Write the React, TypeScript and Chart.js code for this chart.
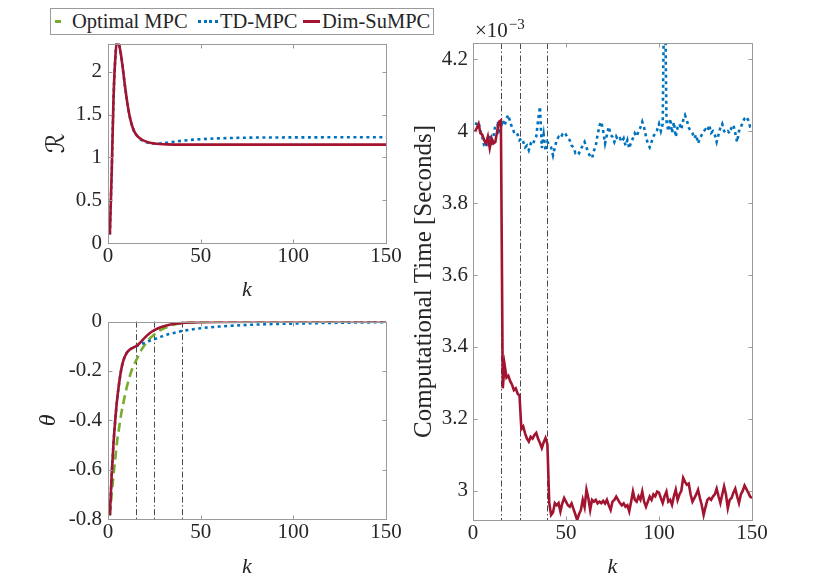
import React, { useEffect, useRef } from "react";
import { Chart, registerables } from "chart.js";

Chart.register(...registerables);

// axis ticks
const kTicks = [0, 50, 100, 150];
const rTicks = [0, 0.5, 1, 1.5, 2];
const thetaTicks = [-0.8, -0.6, -0.4, -0.2, 0];
const timeTicks = [3, 3.2, 3.4, 3.6, 3.8, 4, 4.2];
// steps where Dim-SuMPC changes dimension (dash-dot lines)
const switchSteps = [15, 25, 40];

// top-left: R vs k
const kR = [1, 2, 3, 4, 5, 6, 7, 8, 9, 10, 11, 12, 13, 14, 16, 18, 20, 22, 25, 28, 32, 40, 60, 100, 150];
const rDimSu = [0.1, 0.83, 1.7, 2.18, 2.38, 2.32, 2.2, 2.04, 1.86, 1.7, 1.56, 1.45, 1.37, 1.31, 1.245, 1.21, 1.19, 1.175, 1.162, 1.156, 1.152, 1.15, 1.15, 1.15, 1.15];
const kRTd = [1, 2, 3, 4, 5, 6, 7, 8, 9, 10, 11, 12, 13, 14, 16, 18, 20, 22, 25, 28, 32, 40, 50, 60, 70, 80, 100, 125, 150];
const rTd = [0.1, 0.83, 1.7, 2.18, 2.38, 2.32, 2.2, 2.04, 1.86, 1.7, 1.56, 1.45, 1.37, 1.31, 1.245, 1.205, 1.182, 1.168, 1.162, 1.163, 1.172, 1.195, 1.213, 1.223, 1.229, 1.232, 1.234, 1.235, 1.235];

// bottom-left: theta vs k
const kTheta = [1, 2, 3, 4, 5, 6, 7, 8, 10, 12, 14, 15, 16, 18, 20, 22, 25, 28, 32, 36, 40, 45, 50, 60, 80, 100, 150];
const thetaDimSu = [-0.785, -0.62, -0.49, -0.39, -0.31, -0.25, -0.2, -0.165, -0.128, -0.112, -0.104, -0.1, -0.095, -0.08, -0.064, -0.05, -0.035, -0.024, -0.015, -0.009, -0.005, -0.003, -0.002, -0.001, 0, 0, 0];
const thetaOptimal = [-0.785, -0.7, -0.62, -0.55, -0.48, -0.43, -0.38, -0.34, -0.27, -0.215, -0.175, -0.16, -0.145, -0.115, -0.092, -0.072, -0.052, -0.036, -0.022, -0.012, -0.006, -0.003, -0.001, 0, 0, 0, 0];
const thetaTd = [-0.785, -0.62, -0.49, -0.39, -0.31, -0.25, -0.2, -0.165, -0.128, -0.112, -0.104, -0.1, -0.097, -0.091, -0.085, -0.079, -0.071, -0.063, -0.052, -0.045, -0.038, -0.032, -0.027, -0.02, -0.012, -0.008, -0.002];

// right: computational time per step (x 10^-3 s)
const kTime = Array.from({ length: 150 }, (_, i) => i + 1);
const timeTd = [
  4.022, 4.02, 4.025, 4.0, 3.985, 3.96, 3.955, 3.975, 3.99, 3.96,
  3.985, 4.015, 4.02, 4.0, 4.01, 4.03, 4.015, 4.035, 4.045, 4.025,
  4.01, 3.998, 4.0, 3.99, 3.975, 3.98, 3.97, 3.955, 3.96, 3.947,
  3.965, 3.96, 3.975, 3.985, 4.03, 4.068, 3.953, 3.99, 3.945, 3.97,
  3.962, 3.955, 3.933, 3.955, 3.975, 3.984, 3.98, 3.99, 3.984, 3.99,
  3.98, 3.975, 3.96, 3.955, 3.94, 3.945, 3.939, 3.95, 3.96, 3.97,
  3.955, 3.94, 3.93, 3.925, 3.945, 3.96, 3.99, 4.015, 4.026, 4.0,
  3.966, 3.99, 4.012, 3.99, 3.984, 3.97, 3.985, 3.975, 3.98, 3.97,
  3.98, 3.96, 3.975, 3.952, 3.97, 3.98, 3.994, 3.985, 4.0, 4.01,
  4.026, 4.01, 3.985, 3.965, 3.955, 3.97, 3.985, 3.995, 4.003, 4.02,
  4.0, 4.02, 4.5, 4.03, 4.0, 4.035, 3.995, 4.025, 3.984, 4.01,
  4.02, 4.005, 4.03, 4.044, 4.03, 4.01, 4.0, 3.994, 3.98, 3.99,
  3.966, 3.98, 3.99, 4.0, 4.005, 4.0, 4.017, 3.995, 4.0, 3.99,
  3.97, 3.99, 4.01, 4.02, 4.0, 3.995, 4.0, 3.994, 4.01, 4.017,
  3.995, 3.97, 4.0, 4.01, 4.025, 4.035, 4.04, 4.03, 4.012, 4.012,
];
const timeDimSu = [
  3.998, 4.008, 4.02, 3.994, 3.99, 3.975, 3.966, 3.985, 3.953, 3.98,
  3.966, 3.97, 4.0, 4.026, 4.03, 3.285, 3.35, 3.315, 3.32, 3.305,
  3.295, 3.28, 3.285, 3.27, 3.265, 3.172, 3.179, 3.16, 3.145, 3.137,
  3.15, 3.145, 3.155, 3.161, 3.145, 3.133, 3.119, 3.135, 3.147, 3.13,
  2.966, 2.933, 2.94, 2.966, 2.96, 2.966, 2.943, 2.965, 2.98, 2.97,
  2.96, 2.956, 2.965, 2.95, 2.935, 2.919, 2.935, 2.947, 2.975, 2.955,
  3.003, 2.98, 2.947, 2.975, 2.97, 2.975, 2.965, 2.97, 2.966, 2.972,
  2.965, 2.975, 2.96, 2.947, 2.97, 2.975, 2.984, 2.975, 2.966, 2.96,
  2.965, 2.956, 2.96, 2.943, 2.97, 2.998, 2.975, 2.97, 2.985, 2.975,
  2.998, 2.97, 2.956, 2.97, 2.984, 2.975, 2.99, 2.985, 2.998, 2.995,
  2.98, 2.966, 2.985, 2.998, 2.97, 2.975, 2.961, 2.985, 3.003, 2.975,
  2.99, 3.0, 3.036, 3.025, 3.017, 3.02, 2.99, 2.97, 2.98, 2.99,
  3.003, 2.98, 2.96, 2.933, 2.955, 2.975, 2.98, 2.975, 2.984, 2.99,
  3.006, 2.985, 2.966, 2.99, 3.012, 2.99, 2.952, 2.975, 2.98, 2.995,
  3.006, 2.985, 2.966, 2.99, 3.0, 3.015, 3.005, 2.995, 2.984, 2.98,
];

const GREEN = "#77AC30";
const BLUE = "#0072BD";
const RED = "#A2142F";
const TEXT = "#262626";
const BOX = "#9a9a9a";
const SERIF = "'Liberation Serif', 'DejaVu Serif', serif";
const SCRIPT = "'Liberation Serif', 'DejaVu Serif', 'DejaVu Sans', serif";

const toPoints = (ks: number[], vs: number[]) => ks.map((k, i) => ({ x: k, y: vs[i] }));

const lineDim = (ks: number[], vs: number[], smooth: boolean) => ({
  label: "Dim-SuMPC",
  data: toPoints(ks, vs),
  borderColor: RED,
  borderWidth: 2.6,
  pointRadius: 0,
  tension: 0,
  cubicInterpolationMode: smooth ? "monotone" : "default",
});
const lineTd = (ks: number[], vs: number[], smooth: boolean) => ({
  label: "TD-MPC",
  data: toPoints(ks, vs),
  borderColor: BLUE,
  borderWidth: 2.6,
  borderDash: [3, 3.5],
  pointRadius: 0,
  tension: 0,
  cubicInterpolationMode: smooth ? "monotone" : "default",
});
const lineOpt = (ks: number[], vs: number[]) => ({
  label: "Optimal MPC",
  data: toPoints(ks, vs),
  borderColor: GREEN,
  borderWidth: 2.6,
  borderDash: [9, 5],
  pointRadius: 0,
  cubicInterpolationMode: "monotone",
});

// MATLAB-like box with inner ticks, dash-dot switch lines, exponent label
const matlabBox = {
  id: "matlabBox",
  beforeDatasetsDraw(chart: any, _a: any, opts: any) {
    const { ctx, chartArea: a, scales } = chart;
    if (!opts.vlines || !opts.vlines.length) return;
    ctx.save();
    ctx.strokeStyle = "#4a4a4a";
    ctx.lineWidth = 1;
    ctx.setLineDash([6, 2.5, 1.5, 2.5]);
    for (const v of opts.vlines) {
      const x = Math.round(scales.x.getPixelForValue(v)) + 0.5;
      ctx.beginPath();
      ctx.moveTo(x, a.top);
      ctx.lineTo(x, a.bottom);
      ctx.stroke();
    }
    ctx.restore();
  },
  afterDraw(chart: any, _a: any, opts: any) {
    const { ctx, chartArea: a, scales } = chart;
    ctx.save();
    ctx.strokeStyle = BOX;
    ctx.lineWidth = 1;
    const L = Math.round(a.left) + 0.5;
    const R = Math.round(a.right) + 0.5;
    const T = Math.round(a.top) + 0.5;
    const B = Math.round(a.bottom) + 0.5;
    ctx.strokeRect(L, T, R - L, B - T);
    ctx.beginPath();
    for (const t of scales.x.ticks) {
      const x = Math.round(scales.x.getPixelForValue(t.value)) + 0.5;
      ctx.moveTo(x, B);
      ctx.lineTo(x, B - 4);
      ctx.moveTo(x, T);
      ctx.lineTo(x, T + 4);
    }
    for (const t of scales.y.ticks) {
      const y = Math.round(scales.y.getPixelForValue(t.value)) + 0.5;
      ctx.moveTo(L, y);
      ctx.lineTo(L + 4, y);
      ctx.moveTo(R, y);
      ctx.lineTo(R - 4, y);
    }
    ctx.stroke();
    if (opts.exponent) {
      ctx.fillStyle = TEXT;
      ctx.textBaseline = "alphabetic";
      ctx.font = `21px ${SERIF}`;
      const base = "\u00d710";
      ctx.fillText(base, a.left + 2, a.top - 6);
      const w = ctx.measureText(base).width;
      ctx.font = `15px ${SERIF}`;
      ctx.fillText(opts.exponent, a.left + 3 + w, a.top - 14);
    }
    ctx.restore();
  },
};

type PanelSpec = {
  x: number;
  y: number;
  w: number;
  h: number;
  area: { left: number; top: number; right: number; bottom: number };
  yMin: number;
  yMax: number;
  yTicks: number[];
  yTitle: string;
  yTitleSize: number;
  yTitleStyle: string;
  yTitleFamily: string;
  yTickPad: number;
  datasets: any[];
  vlines?: number[];
  exponent?: string;
};

function buildConfig(s: PanelSpec): any {
  const yWidth = s.area.left - s.x;
  const xHeight = s.y + s.h - s.area.bottom;
  return {
    type: "line",
    data: { datasets: s.datasets },
    options: {
      animation: false,
      responsive: false,
      events: [],
      layout: {
        padding: { left: 0, top: s.area.top - s.y, right: s.x + s.w - s.area.right, bottom: 0 },
      },
      plugins: {
        legend: { display: false },
        tooltip: { enabled: false },
        matlabBox: { vlines: s.vlines ?? [], exponent: s.exponent },
      },
      scales: {
        x: {
          type: "linear",
          min: 0,
          max: 150,
          afterBuildTicks: (sc: any) => {
            sc.ticks = kTicks.map((v) => ({ value: v }));
          },
          afterFit: (sc: any) => {
            sc.height = xHeight;
          },
          grid: { display: false, drawTicks: false },
          border: { display: false },
          ticks: {
            padding: 1,
            color: TEXT,
            autoSkip: false,
            maxRotation: 0,
            font: { family: SERIF, size: 21, lineHeight: 1.2 },
            callback: (v: number) => String(v),
          },
          title: {
            display: true,
            text: "k",
            color: TEXT,
            padding: 0,
            font: { family: SERIF, size: 22, style: "italic", lineHeight: 1 },
          },
        },
        y: {
          type: "linear",
          min: s.yMin,
          max: s.yMax,
          afterBuildTicks: (sc: any) => {
            sc.ticks = s.yTicks.map((v) => ({ value: v }));
          },
          afterFit: (sc: any) => {
            sc.width = yWidth;
          },
          grid: { display: false, drawTicks: false },
          border: { display: false },
          ticks: {
            padding: s.yTickPad,
            color: TEXT,
            autoSkip: false,
            font: { family: SERIF, size: 21, lineHeight: 1.2 },
            callback: (v: number) => String(v),
          },
          title: {
            display: true,
            text: s.yTitle,
            color: TEXT,
            padding: 0,
            font: { family: s.yTitleFamily, size: s.yTitleSize, style: s.yTitleStyle, lineHeight: 1 },
          },
        },
      },
    },
    plugins: [matlabBox],
  };
}

const panels: PanelSpec[] = [
  {
    x: 45, y: 25, w: 370, h: 276,
    area: { left: 108, top: 43, right: 386, bottom: 243 },
    yMin: 0, yMax: 2.33, yTicks: rTicks,
    yTitle: "\u211b", yTitleSize: 25, yTitleStyle: "normal", yTitleFamily: SCRIPT, yTickPad: 6,
    datasets: [lineDim(kR, rDimSu, true), lineTd(kRTd, rTd, true)],
  },
  {
    x: 37, y: 303, w: 378, h: 275,
    area: { left: 108, top: 321, right: 386, bottom: 519 },
    yMin: -0.8, yMax: 0, yTicks: thetaTicks,
    yTitle: "\u03b8", yTitleSize: 24, yTitleStyle: "italic", yTitleFamily: SERIF, yTickPad: 6,
    datasets: [lineDim(kTheta, thetaDimSu, true), lineTd(kTheta, thetaTd, true), lineOpt(kTheta, thetaOptimal)],
    vlines: switchSteps,
  },
  {
    x: 412, y: 0, w: 418, h: 578,
    area: { left: 473, top: 43, right: 752, bottom: 520 },
    yMin: 2.919, yMax: 4.245, yTicks: timeTicks,
    yTitle: "Computational Time [Seconds]", yTitleSize: 25, yTitleStyle: "normal", yTitleFamily: SERIF, yTickPad: 5,
    datasets: [lineDim(kTime, timeDimSu, false), lineTd(kTime, timeTd, false)],
    vlines: switchSteps,
    exponent: "\u22123",
  },
];

function Panel({ spec }: { spec: PanelSpec }) {
  const ref = useRef<HTMLCanvasElement>(null);
  useEffect(() => {
    const chart = new Chart(ref.current!, buildConfig(spec));
    return () => {
      chart.destroy();
    };
  }, [spec]);
  return (
    <canvas
      ref={ref}
      width={spec.w}
      height={spec.h}
      style={{ position: "absolute", left: spec.x, top: spec.y, width: spec.w, height: spec.h }}
    />
  );
}

function Legend() {
  const text = {
    position: "absolute" as const,
    top: 0,
    lineHeight: "25px",
    fontFamily: SERIF,
    fontSize: 20.5,
    color: TEXT,
    whiteSpace: "nowrap" as const,
  };
  const sample = (left: number, width: number, bg: string) => ({
    position: "absolute" as const,
    left,
    top: 11,
    width,
    height: 2.6,
    background: bg,
  });
  return (
    <div
      style={{
        position: "absolute",
        left: 50,
        top: 8,
        width: 382,
        height: 25,
        border: `1px solid ${BOX}`,
        background: "#fff",
      }}
    >
      <div style={sample(4, 6, GREEN)} />
      <span style={{ ...text, left: 21 }}>Optimal MPC</span>
      <div style={sample(147, 20, `repeating-linear-gradient(90deg, ${BLUE} 0 3px, transparent 3px 5.5px)`)} />
      <span style={{ ...text, left: 169 }}>TD-MPC</span>
      <div style={sample(252, 17, RED)} />
      <span style={{ ...text, left: 271 }}>Dim-SuMPC</span>
    </div>
  );
}

export default function App() {
  return (
    <div style={{ position: "absolute", left: 0, top: 0, width: 830, height: 585, background: "#fff" }}>
      {panels.map((p, i) => (
        <Panel key={i} spec={p} />
      ))}
      <Legend />
    </div>
  );
}
